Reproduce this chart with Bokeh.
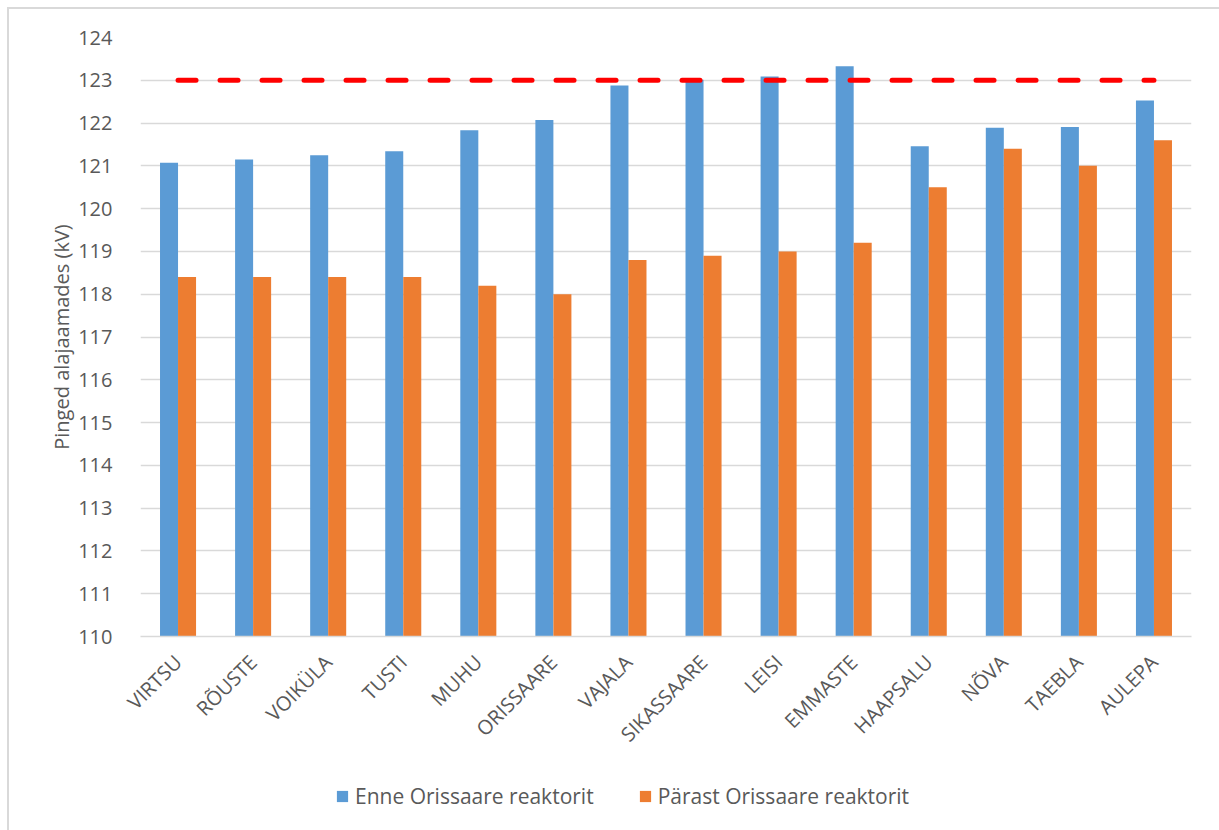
from bokeh.plotting import figure
from bokeh.layouts import column
from bokeh.models import Range1d, FactorRange, Legend, LegendItem, FixedTicker, ColumnDataSource
from bokeh.transform import dodge
from bokeh.embed import file_html
from bokeh.resources import INLINE

# Substations
stations = ["VIRTSU", "RÕUSTE", "VOIKÜLA", "TUSTI", "MUHU", "ORISSAARE", "VAJALA",
            "SIKASSAARE", "LEISI", "EMMASTE", "HAAPSALU", "NÕVA", "TAEBLA", "AULEPA"]
# Voltage before the Orissaare reactor (kV)
before = [121.07, 121.15, 121.25, 121.34, 121.83, 122.07, 122.88,
          123.01, 123.09, 123.33, 121.46, 121.89, 121.91, 122.53]
# Voltage after the Orissaare reactor (kV)
after = [118.4, 118.4, 118.4, 118.4, 118.2, 118.0, 118.8,
         118.9, 119.0, 119.2, 120.5, 121.4, 121.0, 121.6]
# Upper voltage limit (kV)
limit = 123
y_ticks = list(range(110, 125))

label_before = "Enne Orissaare reaktorit"
label_after = "Pärast Orissaare reaktorit"

FONT = "Open Sans"
TEXT = "#595959"
GRID = "#d9d9d9"
BLUE = "#5B9BD5"
ORANGE = "#ED7D31"

src = ColumnDataSource(dict(station=stations, before=before, after=after))

p = figure(
    x_range=FactorRange(*stations, range_padding=0),
    y_range=Range1d(110, 124),
    width=1210, height=761,
    output_backend="svg", toolbar_location=None,
    min_border_left=131, min_border_right=28,
    min_border_top=28, min_border_bottom=134,
)
p.outline_line_color = None
p.background_fill_color = "white"
p.border_fill_color = "white"

p.vbar(x=dodge("station", -0.12, range=p.x_range), top="before", bottom=110,
       width=0.24, source=src, fill_color=BLUE, line_color=None)
p.vbar(x=dodge("station", 0.12, range=p.x_range), top="after", bottom=110,
       width=0.24, source=src, fill_color=ORANGE, line_color=None)

# upper limit
p.line(x=[stations[0], stations[-1]], y=[limit, limit], line_color="#FF0000",
       line_width=5, line_dash="18 24", line_cap="round")

# grid
p.xgrid.grid_line_color = None
p.ygrid.grid_line_color = GRID
p.ygrid.grid_line_width = 1.5
p.yaxis.ticker = FixedTicker(ticks=y_ticks)

# y axis
p.yaxis.axis_line_color = None
p.yaxis.major_tick_line_color = None
p.yaxis.minor_tick_line_color = None
p.yaxis.major_label_text_font = FONT
p.yaxis.major_label_text_font_size = "20px"
p.yaxis.major_label_text_color = TEXT
p.yaxis.major_label_standoff = 22
p.yaxis.axis_label = "Pinged alajaamades (kV)"
p.yaxis.axis_label_text_font = FONT
p.yaxis.axis_label_text_font_size = "20px"
p.yaxis.axis_label_text_font_style = "normal"
p.yaxis.axis_label_text_color = TEXT
p.yaxis.axis_label_standoff = 0

# x axis
p.xaxis.axis_line_color = GRID
p.xaxis.axis_line_width = 1.5
p.xaxis.major_tick_line_color = None
p.xaxis.minor_tick_line_color = None
p.xaxis.major_label_orientation = 0.785398
p.xaxis.major_label_text_font = FONT
p.xaxis.major_label_text_font_size = "20px"
p.xaxis.major_label_text_color = TEXT
p.xaxis.major_label_standoff = 16

# legend strip under the chart
q = figure(
    width=1210, height=61, x_range=Range1d(0, 1), y_range=Range1d(0, 1),
    output_backend="svg", toolbar_location=None,
    min_border_left=10, min_border_right=0, min_border_top=0, min_border_bottom=0,
)
q.axis.visible = False
q.grid.visible = False
q.outline_line_color = None
q.border_fill_color = "white"
# zero-size swatches that only carry the series colours for the legend
lb = q.vbar(x=[0], top=[0], bottom=0, width=0, fill_color=BLUE, line_color=None)
la = q.vbar(x=[0], top=[0], bottom=0, width=0, fill_color=ORANGE, line_color=None)

legend = Legend(
    items=[LegendItem(label=label_before, renderers=[lb]),
           LegendItem(label=label_after, renderers=[la])],
    orientation="horizontal", location=(195, 21),
    glyph_width=14, glyph_height=14, label_standoff=6, spacing=44,
    padding=0, margin=0,
    label_text_font=FONT, label_text_font_size="21px", label_text_color=TEXT,
    border_line_color=None, background_fill_alpha=0,
)
q.add_layout(legend, "center")

layout = column(p, q, spacing=0,
                styles={"margin-left": "7px", "margin-top": "7px",
                        "border-left": "2px solid #d9d9d9", "border-top": "2px solid #d9d9d9"})

open("out.html", "w").write(file_html(layout, INLINE))
